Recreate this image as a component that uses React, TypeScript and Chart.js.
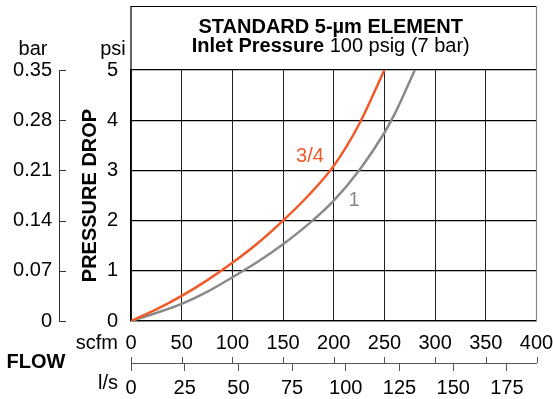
import React, { useEffect, useRef } from 'react';
import { Chart, registerables } from 'chart.js';

Chart.register(...registerables);

const FONT = "'Liberation Sans', Arial, Helvetica, sans-serif";

// Axis tick values
const scfmTicks = [0, 50, 100, 150, 200, 250, 300, 350, 400];
const lpsTicks = [0, 25, 50, 75, 100, 125, 150, 175];
const psiTicks = [0, 1, 2, 3, 4, 5];
const barTicks = [0, 0.07, 0.14, 0.21, 0.28, 0.35];
const SCFM_PER_LPS = 2.11888;

// Series: 3/4 element
const flow34 = [0, 25, 50, 75, 100, 125, 150, 175, 200, 225, 250];
const drop34 = [0, 0.23, 0.5, 0.81, 1.16, 1.55, 2.0, 2.5, 3.09, 3.92, 5.0];
// Series: 1 element
const flow1 = [0, 25, 50, 75, 100, 125, 150, 175, 200, 225, 250, 260, 270, 280];
const drop1 = [0, 0.16, 0.34, 0.58, 0.87, 1.18, 1.53, 1.93, 2.4, 3.0, 3.75, 4.12, 4.55, 5.0];

const ORANGE = '#f05a28';
const GRAY = '#8a8a8a';

const decorPlugin = {
  id: 'decor',
  afterDraw(chart: any) {
    const { ctx, chartArea: ca, scales } = chart;
    const x = scales.x;
    const y = scales.y;
    const bar = scales.bar;
    const lps = scales.lps;
    ctx.save();
    const boxTop = 6.5;
    // title box
    ctx.strokeStyle = '#000';
    ctx.lineWidth = 1.2;
    ctx.beginPath();
    ctx.moveTo(ca.left, ca.top);
    ctx.lineTo(ca.left, boxTop);
    ctx.lineTo(ca.right, boxTop);
    ctx.stroke();
    ctx.strokeStyle = GRAY;
    ctx.beginPath();
    ctx.moveTo(ca.right, boxTop);
    ctx.lineTo(ca.right, ca.bottom);
    ctx.stroke();

    const cx = (ca.left + ca.right) / 2 - 3;
    ctx.fillStyle = '#000';
    ctx.textBaseline = 'alphabetic';
    ctx.textAlign = 'center';
    ctx.font = `bold 20px ${FONT}`;
    ctx.fillText('STANDARD 5-µm ELEMENT', cx, 33);
    const p1 = 'Inlet Pressure';
    const p2 = ' 100 psig (7 bar)';
    ctx.font = `bold 20px ${FONT}`;
    const w1 = ctx.measureText(p1).width;
    ctx.font = `20px ${FONT}`;
    const w2 = ctx.measureText(p2).width;
    const sx = cx - (w1 + w2) / 2;
    ctx.textAlign = 'left';
    ctx.font = `bold 20px ${FONT}`;
    ctx.fillText(p1, sx, 52);
    ctx.font = `20px ${FONT}`;
    ctx.fillText(p2, sx + w1, 52);

    // bar axis tick marks (pointing right)
    ctx.strokeStyle = '#333';
    ctx.lineWidth = 1;
    const bx = bar.right;
    barTicks.forEach((v) => {
      const py = Math.round(bar.getPixelForValue(v)) + 0.5;
      ctx.beginPath();
      ctx.moveTo(bx, py);
      ctx.lineTo(bx + 7, py);
      ctx.stroke();
    });

    // upward scfm ticks on the l/s axis line
    ctx.strokeStyle = '#555';
    const ly = lps.top;
    scfmTicks.forEach((v) => {
      const px = Math.round(x.getPixelForValue(v)) + 0.5;
      ctx.beginPath();
      ctx.moveTo(px, ly - 6);
      ctx.lineTo(px, ly);
      ctx.stroke();
    });

    // axis headers
    ctx.fillStyle = '#000';
    ctx.textBaseline = 'middle';
    ctx.textAlign = 'center';
    ctx.font = `20px ${FONT}`;
    ctx.fillText('bar', 33, 49);
    ctx.fillText('psi', 113, 49);
    ctx.textAlign = 'right';
    ctx.fillText('scfm', 118, 343);
    ctx.fillText('l/s', 118, 383);
    ctx.textAlign = 'center';
    ctx.font = `bold 20px ${FONT}`;
    ctx.fillText('FLOW', 36, 362);

    // PRESSURE DROP rotated
    const midY = (y.getPixelForValue(0) + y.getPixelForValue(5)) / 2;
    ctx.save();
    ctx.translate(90, midY);
    ctx.rotate(-Math.PI / 2);
    ctx.font = `bold 20px ${FONT}`;
    ctx.textAlign = 'center';
    ctx.textBaseline = 'middle';
    ctx.fillText('PRESSURE DROP', 0, 0);
    ctx.restore();

    // curve labels
    ctx.font = `20px ${FONT}`;
    ctx.textAlign = 'center';
    ctx.textBaseline = 'middle';
    ctx.fillStyle = ORANGE;
    ctx.fillText('3/4', x.getPixelForValue(176.5), y.getPixelForValue(3.27));
    ctx.fillStyle = GRAY;
    ctx.fillText('1', x.getPixelForValue(220), y.getPixelForValue(2.41));
    ctx.restore();
  },
};

export default function App() {
  const ref = useRef<HTMLCanvasElement>(null);
  useEffect(() => {
    const tickFont = { family: FONT, size: 20 };
    const chart = new Chart(ref.current as HTMLCanvasElement, {
      type: 'scatter',
      data: {
        datasets: [
          {
            label: '3/4',
            data: flow34.map((f, i) => ({ x: f, y: drop34[i] })),
            showLine: true,
            borderColor: ORANGE,
            borderWidth: 2.5,
            pointRadius: 0,
            cubicInterpolationMode: 'monotone',
            xAxisID: 'x',
            yAxisID: 'y',
          },
          {
            label: '1',
            data: flow1.map((f, i) => ({ x: f, y: drop1[i] })),
            showLine: true,
            borderColor: GRAY,
            borderWidth: 2.5,
            pointRadius: 0,
            cubicInterpolationMode: 'monotone',
            xAxisID: 'x',
            yAxisID: 'y',
          },
        ],
      },
      options: {
        responsive: false,
        animation: false,
        events: [],
        layout: { padding: { top: 70, right: 16.5, left: 0, bottom: 0 } },
        plugins: { legend: { display: false }, tooltip: { enabled: false } },
        scales: {
          x: {
            type: 'linear',
            position: 'bottom',
            weight: 0,
            min: 0,
            max: 400,
            afterBuildTicks: (s: any) => {
              s.ticks = scfmTicks.map((v) => ({ value: v }));
            },
            afterFit: (s: any) => {
              s.height = 42;
              s.paddingLeft = 0;
              s.paddingRight = 0;
            },
            ticks: { font: tickFont, color: '#000', padding: 10, maxRotation: 0, autoSkip: false },
            grid: {
              drawTicks: false,
              color: (c: any) => (c.tick && c.tick.value === 400 ? GRAY : '#222'),
              lineWidth: 1,
            },
            border: { display: true, color: '#000', width: 1.2 },
          },
          lps: {
            type: 'linear',
            position: 'bottom',
            display: true,
            weight: 1,
            min: 0,
            max: 400 / SCFM_PER_LPS,
            afterBuildTicks: (s: any) => {
              s.ticks = lpsTicks.map((v) => ({ value: v }));
            },
            afterFit: (s: any) => {
              s.height = 36;
              s.paddingLeft = 0;
              s.paddingRight = 0;
            },
            ticks: { font: tickFont, color: '#000', padding: 5, maxRotation: 0, autoSkip: false },
            grid: { drawOnChartArea: false, drawTicks: true, tickLength: 8, color: '#555', lineWidth: 1 },
            border: { display: true, color: '#555', width: 1 },
          },
          y: {
            type: 'linear',
            position: 'left',
            weight: 0,
            min: 0,
            max: 5,
            afterBuildTicks: (s: any) => {
              s.ticks = psiTicks.map((v) => ({ value: v }));
            },
            afterFit: (s: any) => {
              s.width = 72;
              s.paddingTop = 0;
              s.paddingBottom = 0;
            },
            ticks: { font: tickFont, color: '#000', padding: 13 },
            grid: { drawTicks: false, color: '#000', lineWidth: 1.2 },
            border: { display: true, color: '#000', width: 1.2 },
          },
          bar: {
            type: 'linear',
            position: 'left',
            display: true,
            weight: 1,
            min: 0,
            max: 0.35,
            afterBuildTicks: (s: any) => {
              s.ticks = barTicks.map((v) => ({ value: v }));
            },
            afterFit: (s: any) => {
              s.width = 59;
              s.paddingTop = 0;
              s.paddingBottom = 0;
            },
            ticks: {
              font: tickFont,
              color: '#000',
              padding: 7,
              callback: (v: any) => (Number(v) === 0 ? '0' : Number(v).toFixed(2)),
            },
            grid: { display: false, drawTicks: false, tickLength: 0 },
            border: { display: true, color: '#333', width: 1 },
          },
        },
      } as any,
      plugins: [decorPlugin],
    });
    return () => chart.destroy();
  }, []);
  return (
    <div style={{ position: 'fixed', left: 0, top: 0, width: 553, height: 399, background: '#fff' }}>
      <canvas ref={ref} width={553} height={399} style={{ display: 'block' }} />
    </div>
  );
}
